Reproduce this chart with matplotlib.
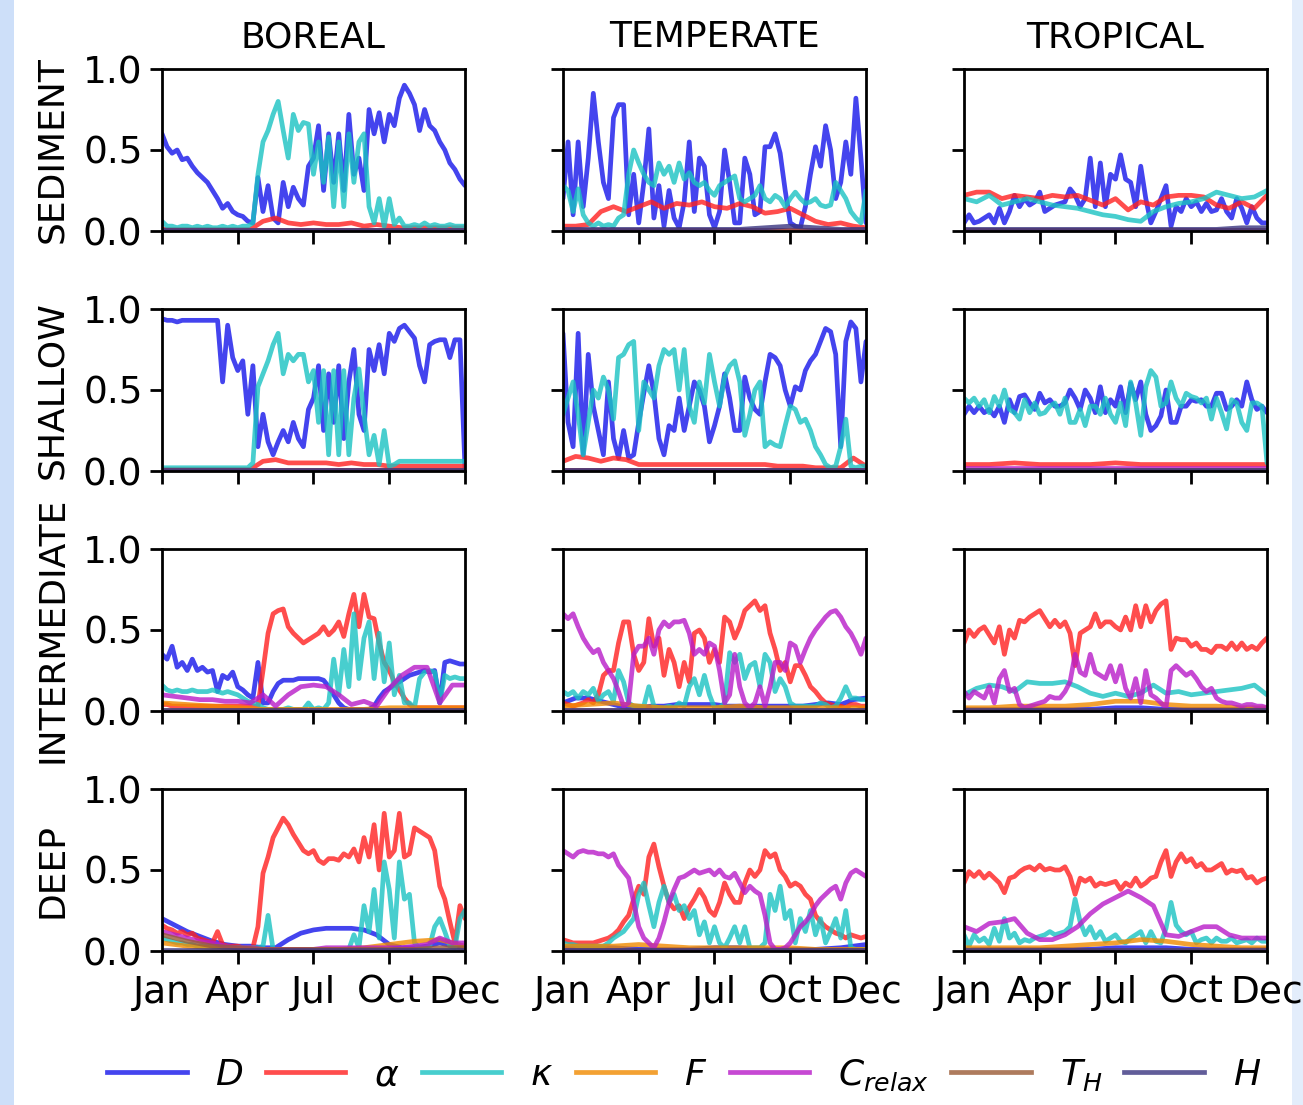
import numpy as np
import matplotlib
matplotlib.use('Agg')
import matplotlib.pyplot as plt
from matplotlib.lines import Line2D
from matplotlib.patches import Rectangle

# ---------------- categories / labels ----------------
biomes = ['BOREAL', 'TEMPERATE', 'TROPICAL']
depths = ['SEDIMENT', 'SHALLOW', 'INTERMEDIATE', 'DEEP']
month_labels = ['Jan', 'Apr', 'Jul', 'Oct', 'Dec']
month_days = [0, 91, 182, 274, 365]
y_ticks = [0.0, 0.5, 1.0]
param_keys = ['D', 'alpha', 'kappa', 'F', 'C', 'TH', 'H']
param_labels = [r'$D$', r'$\alpha$', r'$\kappa$', r'$F$', r'$C_{relax}$', r'$T_H$', r'$H$']

# ---------------- series values (fraction, read along the year) ----------------
floor_vals = [0.005, 0.005, 0.005, 0.005, 0.005]

# BOREAL
bor_sed_D = [0.60,0.52,0.48,0.50,0.44,0.45,0.40,0.36,0.33,0.30,
             0.25,0.20,0.14,0.17,0.12,0.10,0.09,0.06,0.05,0.33,
             0.12,0.28,0.08,0.05,0.30,0.15,0.27,0.20,0.16,0.40,
             0.45,0.65,0.25,0.60,0.30,0.60,0.25,0.72,0.35,0.45,
             0.25,0.75,0.60,0.73,0.55,0.72,0.65,0.82,0.90,0.85,
             0.78,0.62,0.75,0.65,0.62,0.55,0.50,0.42,0.38,0.32,
             0.28]
bor_sed_k = [0.06,0.03,0.03,0.02,0.03,0.03,0.02,0.03,0.02,0.03,
             0.02,0.02,0.03,0.02,0.03,0.02,0.03,0.03,0.05,0.35,
             0.55,0.62,0.72,0.80,0.62,0.45,0.72,0.62,0.67,0.66,
             0.35,0.55,0.30,0.58,0.15,0.55,0.15,0.60,0.30,0.55,
             0.60,0.15,0.05,0.20,0.03,0.20,0.04,0.08,0.03,0.03,
             0.04,0.03,0.05,0.03,0.04,0.03,0.03,0.04,0.03,0.03,
             0.03]
bor_sed_a = [0.01,0.01,0.01,0.01,0.01,0.01,0.01,0.01,0.06,0.08,0.05,0.04,0.05,
             0.04,0.04,0.05,0.03,0.04,0.03,0.02,0.02,0.02,0.02,0.02,0.02]

bor_sha_D = [0.94,0.93,0.93,0.92,0.93,0.93,0.93,0.93,0.93,0.93,
             0.93,0.93,0.55,0.90,0.70,0.62,0.68,0.35,0.65,0.15,
             0.35,0.18,0.10,0.18,0.25,0.18,0.30,0.20,0.15,0.38,
             0.45,0.65,0.25,0.60,0.30,0.65,0.20,0.55,0.75,0.35,
             0.25,0.75,0.62,0.78,0.60,0.85,0.80,0.88,0.90,0.86,
             0.82,0.65,0.55,0.78,0.80,0.81,0.81,0.70,0.81,0.81,
             0.02]
bor_sha_k = [0.02,0.02,0.02,0.02,0.02,0.02,0.02,0.02,0.02,0.02,
             0.02,0.02,0.02,0.02,0.02,0.02,0.02,0.02,0.05,0.52,
             0.60,0.68,0.78,0.85,0.60,0.72,0.68,0.72,0.72,0.55,
             0.62,0.30,0.62,0.10,0.62,0.10,0.62,0.10,0.45,0.63,
             0.35,0.10,0.22,0.04,0.25,0.03,0.04,0.06,0.06,0.06,
             0.06,0.06,0.06,0.06,0.06,0.06,0.06,0.06,0.06,0.06,
             0.06]
bor_sha_a = [0.01,0.01,0.01,0.01,0.01,0.01,0.01,0.01,0.06,0.07,0.05,0.05,0.05,
             0.05,0.04,0.05,0.04,0.04,0.03,0.03,0.03,0.03,0.03,0.03,0.03]

bor_int_D = [0.35,0.32,0.40,0.27,0.30,0.25,0.32,0.25,0.27,0.24,
             0.25,0.12,0.22,0.20,0.24,0.15,0.13,0.10,0.08,0.30,
             0.05,0.05,0.12,0.17,0.19,0.19,0.19,0.20,0.20,0.20,
             0.20,0.20,0.19,0.15,0.10,0.05,0.02,0.01,0.01,0.01,
             0.01,0.01,0.03,0.08,0.12,0.14,0.16,0.18,0.20,0.22,
             0.23,0.24,0.25,0.24,0.25,0.05,0.30,0.31,0.30,0.29,
             0.29]
bor_int_a = [0.04,0.04,0.03,0.03,0.03,0.03,0.03,0.03,0.03,0.03,
             0.03,0.03,0.03,0.03,0.03,0.03,0.03,0.03,0.03,0.03,
             0.25,0.48,0.60,0.62,0.63,0.52,0.48,0.45,0.42,0.44,
             0.46,0.48,0.52,0.47,0.50,0.55,0.46,0.60,0.72,0.52,
             0.72,0.58,0.57,0.42,0.30,0.25,0.18,0.13,0.08,0.04,
             0.02,0.02,0.02,0.02,0.02,0.02,0.02,0.02,0.02,0.02,
             0.02]
bor_int_k = [0.16,0.13,0.12,0.13,0.12,0.12,0.13,0.12,0.12,0.12,
             0.13,0.12,0.11,0.12,0.11,0.10,0.08,0.06,0.05,0.04,
             0.02,0.01,0.01,0.01,0.01,0.02,0.01,0.01,0.01,0.05,
             0.01,0.02,0.01,0.05,0.32,0.10,0.38,0.15,0.60,0.20,
             0.45,0.55,0.20,0.48,0.18,0.42,0.10,0.22,0.05,0.05,
             0.02,0.20,0.24,0.25,0.24,0.05,0.22,0.20,0.21,0.20,
             0.20]
bor_int_C = [0.10,0.09,0.08,0.07,0.07,0.06,0.06,0.05,0.10,0.03,0.10,0.15,0.16,
             0.15,0.10,0.04,0.06,0.03,0.14,0.22,0.27,0.27,0.05,0.16,0.16]
bor_int_F = [0.05,0.04,0.03,0.02,0.01,0.01,0.01,0.01,0.01,0.02,0.02,0.02,0.02]

bor_dee_D = [0.20,0.16,0.12,0.09,0.06,0.04,0.03,0.03,0.02,0.02,0.07,0.11,0.13,
             0.14,0.14,0.14,0.13,0.10,0.04,0.02,0.02,0.03,0.05,0.03,0.02]
bor_dee_a = [0.16,0.14,0.13,0.11,0.12,0.10,0.11,0.08,0.07,0.06,
             0.05,0.12,0.04,0.03,0.03,0.03,0.02,0.02,0.02,0.15,
             0.48,0.58,0.70,0.76,0.82,0.78,0.72,0.67,0.62,0.60,
             0.62,0.56,0.54,0.57,0.57,0.56,0.60,0.58,0.63,0.55,
             0.70,0.58,0.78,0.50,0.85,0.58,0.62,0.85,0.58,0.60,
             0.76,0.74,0.72,0.70,0.62,0.40,0.32,0.18,0.05,0.28,
             0.20]
bor_dee_k = [0.08,0.07,0.06,0.05,0.05,0.04,0.04,0.03,0.03,0.03,
             0.03,0.03,0.02,0.02,0.02,0.02,0.02,0.02,0.02,0.02,
             0.03,0.22,0.01,0.01,0.01,0.01,0.01,0.01,0.01,0.01,
             0.01,0.01,0.01,0.01,0.01,0.01,0.01,0.01,0.10,0.02,
             0.28,0.12,0.38,0.08,0.55,0.38,0.08,0.55,0.32,0.35,
             0.05,0.02,0.02,0.03,0.15,0.20,0.12,0.03,0.02,0.20,
             0.25]
bor_dee_C = [0.12,0.10,0.08,0.06,0.05,0.03,0.02,0.02,0.01,0.01,0.01,0.01,0.01,
             0.02,0.02,0.02,0.02,0.02,0.02,0.02,0.03,0.04,0.08,0.05,0.05]
bor_dee_F = [0.05,0.03,0.02,0.01,0.01,0.01,0.01,0.01,0.02,0.04,0.06,0.07,0.03]
bor_dee_T = [0.10,0.06,0.03,0.02,0.01,0.01,0.01,0.01,0.01,0.01,0.01,0.02,0.02]

# TEMPERATE
tem_sed_D = [0.20,0.55,0.10,0.55,0.15,0.45,0.85,0.55,0.30,0.20,
             0.70,0.78,0.78,0.10,0.35,0.05,0.30,0.63,0.08,0.28,
             0.03,0.25,0.08,0.02,0.18,0.55,0.12,0.45,0.40,0.10,
             0.02,0.12,0.50,0.30,0.05,0.05,0.45,0.35,0.10,0.12,
             0.52,0.52,0.60,0.48,0.25,0.05,0.03,0.02,0.15,0.35,
             0.52,0.40,0.65,0.50,0.20,0.30,0.55,0.35,0.82,0.45,
             0.05]
tem_sed_k = [0.28,0.25,0.12,0.26,0.10,0.05,0.03,0.05,0.03,0.04,
             0.03,0.08,0.10,0.35,0.50,0.42,0.35,0.30,0.28,0.42,
             0.35,0.40,0.30,0.42,0.32,0.36,0.30,0.28,0.30,0.25,
             0.22,0.28,0.30,0.32,0.34,0.20,0.18,0.20,0.22,0.28,
             0.20,0.18,0.22,0.20,0.15,0.20,0.24,0.20,0.17,0.18,
             0.20,0.16,0.15,0.16,0.30,0.25,0.20,0.12,0.08,0.05,
             0.25]
tem_sed_a = [0.03,0.03,0.04,0.12,0.15,0.12,0.15,0.18,0.14,0.17,0.16,0.18,0.15,
             0.14,0.17,0.15,0.11,0.12,0.14,0.10,0.06,0.04,0.05,0.03,0.02]
tem_sed_H = [0.01,0.01,0.01,0.01,0.01,0.01,0.01,0.01,0.02,0.03,0.02,0.01,0.01]

tem_sha_D = [0.85,0.30,0.15,0.85,0.10,0.72,0.40,0.25,0.10,0.55,
             0.20,0.08,0.25,0.08,0.10,0.30,0.48,0.65,0.48,0.20,
             0.10,0.28,0.25,0.45,0.25,0.40,0.55,0.50,0.40,0.18,
             0.28,0.40,0.60,0.45,0.25,0.25,0.58,0.45,0.38,0.35,
             0.55,0.72,0.70,0.65,0.50,0.40,0.52,0.50,0.62,0.68,
             0.72,0.80,0.88,0.86,0.72,0.15,0.80,0.92,0.88,0.55,
             0.80]
tem_sha_k = [0.35,0.45,0.55,0.35,0.10,0.30,0.50,0.45,0.58,0.50,
             0.32,0.70,0.72,0.78,0.80,0.25,0.55,0.50,0.45,0.65,
             0.75,0.72,0.75,0.50,0.75,0.40,0.30,0.55,0.42,0.72,
             0.55,0.40,0.58,0.65,0.68,0.55,0.22,0.35,0.50,0.55,
             0.15,0.18,0.16,0.15,0.28,0.40,0.38,0.30,0.32,0.25,
             0.15,0.10,0.04,0.02,0.03,0.15,0.32,0.03,0.02,0.03,
             0.03]
tem_sha_a = [0.06,0.09,0.08,0.06,0.08,0.07,0.04,0.04,0.04,0.04,0.04,0.04,0.04,
             0.04,0.04,0.04,0.04,0.03,0.03,0.03,0.02,0.02,0.02,0.08,0.03]

tem_int_D = [0.05,0.08,0.08,0.06,0.04,0.02,0.02,0.03,0.03,0.04,0.04,0.04,0.04,
             0.03,0.03,0.03,0.03,0.03,0.03,0.03,0.04,0.05,0.04,0.07,0.08]
tem_int_a = [0.05,0.04,0.03,0.04,0.05,0.07,0.05,0.10,0.22,0.25,
             0.25,0.42,0.55,0.55,0.35,0.25,0.30,0.57,0.40,0.45,
             0.22,0.38,0.30,0.15,0.30,0.18,0.48,0.50,0.45,0.30,
             0.38,0.30,0.58,0.55,0.45,0.52,0.62,0.65,0.68,0.62,
             0.65,0.48,0.38,0.25,0.30,0.18,0.28,0.28,0.22,0.15,
             0.12,0.08,0.05,0.04,0.03,0.03,0.02,0.04,0.04,0.03,
             0.03]
tem_int_k = [0.12,0.10,0.12,0.08,0.12,0.10,0.14,0.06,0.10,0.12,
             0.06,0.25,0.18,0.05,0.03,0.03,0.03,0.15,0.03,0.02,
             0.02,0.03,0.02,0.05,0.03,0.15,0.20,0.10,0.22,0.10,
             0.02,0.02,0.05,0.36,0.30,0.35,0.20,0.28,0.30,0.15,
             0.35,0.30,0.12,0.20,0.15,0.05,0.03,0.03,0.03,0.03,
             0.03,0.05,0.04,0.02,0.03,0.08,0.15,0.08,0.08,0.07,
             0.07]
tem_int_F = [0.03,0.04,0.05,0.03,0.02,0.02,0.02,0.03,0.02,0.02,0.02,0.02,0.02]
tem_int_C = [0.60,0.57,0.60,0.52,0.45,0.40,0.36,0.38,0.30,0.25,
             0.20,0.12,0.03,0.05,0.35,0.40,0.40,0.45,0.35,0.50,
             0.55,0.52,0.55,0.55,0.56,0.48,0.35,0.38,0.35,0.42,
             0.40,0.25,0.05,0.10,0.35,0.15,0.05,0.02,0.05,0.15,
             0.03,0.15,0.30,0.30,0.25,0.42,0.40,0.30,0.38,0.45,
             0.50,0.54,0.58,0.61,0.62,0.58,0.52,0.48,0.42,0.35,
             0.45]

tem_dee_D = [0.02,0.02,0.02,0.01,0.01,0.01,0.02,0.02,0.01,0.01,0.01,0.02,0.04]
tem_dee_a = [0.07,0.06,0.05,0.05,0.05,0.05,0.05,0.06,0.07,0.08,
             0.10,0.13,0.18,0.22,0.32,0.40,0.35,0.58,0.66,0.52,
             0.40,0.30,0.26,0.28,0.20,0.27,0.32,0.38,0.33,0.25,
             0.22,0.30,0.42,0.35,0.30,0.30,0.42,0.50,0.46,0.50,
             0.62,0.58,0.60,0.50,0.46,0.40,0.42,0.40,0.35,0.32,
             0.22,0.18,0.15,0.13,0.11,0.10,0.08,0.10,0.09,0.08,
             0.09]
tem_dee_k = [0.05,0.04,0.04,0.03,0.03,0.03,0.03,0.03,0.03,0.05,
             0.08,0.10,0.12,0.16,0.20,0.35,0.42,0.28,0.15,0.30,
             0.40,0.30,0.35,0.25,0.28,0.20,0.25,0.10,0.18,0.05,
             0.15,0.05,0.02,0.08,0.15,0.05,0.15,0.02,0.02,0.02,
             0.05,0.35,0.25,0.40,0.20,0.25,0.05,0.20,0.12,0.25,
             0.10,0.20,0.05,0.12,0.20,0.08,0.25,0.02,0.01,0.01,
             0.01]
tem_dee_F = [0.03,0.03,0.03,0.04,0.03,0.02,0.02,0.02,0.02,0.02,0.01,0.01,0.01]
tem_dee_C = [0.62,0.60,0.58,0.61,0.62,0.61,0.61,0.60,0.60,0.58,
             0.60,0.53,0.49,0.45,0.30,0.15,0.08,0.05,0.02,0.08,
             0.18,0.30,0.38,0.45,0.46,0.48,0.50,0.48,0.49,0.50,
             0.47,0.50,0.46,0.45,0.48,0.42,0.36,0.40,0.37,0.35,
             0.22,0.05,0.01,0.01,0.02,0.05,0.10,0.15,0.18,0.22,
             0.28,0.32,0.35,0.38,0.40,0.32,0.42,0.48,0.50,0.48,
             0.46]

# TROPICAL
tro_sed_D = [0.05,0.10,0.05,0.06,0.08,0.10,0.05,0.14,0.05,0.12,
             0.22,0.15,0.20,0.16,0.18,0.24,0.12,0.14,0.16,0.17,
             0.18,0.26,0.22,0.15,0.20,0.45,0.15,0.42,0.15,0.35,
             0.32,0.47,0.32,0.30,0.15,0.40,0.20,0.05,0.12,0.20,
             0.28,0.03,0.15,0.12,0.20,0.15,0.18,0.12,0.17,0.12,
             0.13,0.20,0.12,0.08,0.20,0.14,0.05,0.15,0.08,0.05,
             0.05]
tro_sed_a = [0.22,0.24,0.24,0.20,0.22,0.21,0.20,0.22,0.21,0.22,0.19,0.16,0.20,
             0.13,0.18,0.16,0.21,0.22,0.22,0.21,0.16,0.14,0.18,0.14,0.22]
tro_sed_k = [0.20,0.18,0.22,0.16,0.18,0.20,0.18,0.16,0.15,0.14,0.12,0.10,0.09,
             0.07,0.06,0.12,0.15,0.17,0.18,0.20,0.24,0.22,0.20,0.21,0.25]
tro_sed_H = [0.01,0.01,0.01,0.01,0.01,0.01,0.01,0.01,0.01,0.01,0.01,0.02,0.02]

tro_sha_D = [0.35,0.40,0.36,0.40,0.36,0.38,0.34,0.40,0.30,0.44,
             0.36,0.46,0.47,0.42,0.38,0.48,0.42,0.44,0.40,0.40,
             0.42,0.50,0.45,0.38,0.50,0.45,0.36,0.52,0.36,0.44,
             0.40,0.52,0.36,0.54,0.44,0.55,0.35,0.25,0.28,0.34,
             0.50,0.30,0.30,0.40,0.40,0.44,0.43,0.44,0.40,0.40,
             0.48,0.48,0.38,0.40,0.44,0.40,0.55,0.44,0.38,0.40,
             0.36]
tro_sha_k = [0.45,0.42,0.45,0.40,0.44,0.36,0.46,0.40,0.50,0.38,
             0.36,0.32,0.44,0.36,0.42,0.35,0.36,0.40,0.42,0.35,
             0.45,0.30,0.30,0.38,0.28,0.40,0.40,0.35,0.45,0.35,
             0.30,0.42,0.28,0.55,0.42,0.22,0.52,0.62,0.58,0.40,
             0.42,0.55,0.45,0.40,0.48,0.46,0.45,0.42,0.45,0.32,
             0.45,0.36,0.26,0.44,0.42,0.30,0.25,0.42,0.42,0.40,
             0.05]
tro_sha_a = [0.04,0.04,0.05,0.04,0.04,0.04,0.05,0.04,0.04,0.04,0.04,0.04,0.04]
tro_sha_C = [0.02,0.02,0.02,0.02,0.02,0.02,0.02,0.02,0.02,0.02,0.02,0.02,0.02]

tro_int_D = [0.01,0.01,0.01,0.01,0.01,0.01,0.02,0.02,0.01,0.01,0.01,0.01,0.01]
tro_int_a = [0.42,0.50,0.46,0.50,0.52,0.47,0.42,0.52,0.35,0.50,
             0.45,0.56,0.55,0.58,0.60,0.62,0.57,0.52,0.56,0.52,
             0.55,0.48,0.28,0.48,0.50,0.52,0.60,0.52,0.55,0.55,
             0.52,0.50,0.58,0.50,0.65,0.52,0.65,0.55,0.62,0.66,
             0.68,0.38,0.45,0.44,0.44,0.40,0.42,0.38,0.38,0.36,
             0.40,0.40,0.38,0.42,0.38,0.42,0.38,0.40,0.38,0.42,
             0.45]
tro_int_k = [0.10,0.14,0.16,0.15,0.12,0.18,0.17,0.17,0.18,0.15,0.11,0.09,0.11,
             0.09,0.11,0.16,0.11,0.12,0.10,0.11,0.12,0.13,0.14,0.16,0.10]
tro_int_F = [0.02,0.02,0.03,0.03,0.03,0.04,0.06,0.06,0.04,0.03,0.03,0.02,0.02]
tro_int_C = [0.12,0.08,0.12,0.10,0.08,0.15,0.05,0.20,0.25,0.12,
             0.14,0.04,0.02,0.03,0.04,0.05,0.06,0.09,0.08,0.08,
             0.12,0.18,0.35,0.24,0.22,0.35,0.24,0.22,0.20,0.28,
             0.18,0.28,0.14,0.08,0.20,0.05,0.25,0.10,0.08,0.05,
             0.02,0.25,0.28,0.25,0.22,0.24,0.20,0.15,0.12,0.14,
             0.08,0.06,0.05,0.05,0.04,0.03,0.04,0.04,0.03,0.03,
             0.02]

tro_dee_D = [0.01,0.01,0.01,0.01,0.01,0.01,0.02,0.02,0.02,0.01,0.01,0.01,0.01]
tro_dee_a = [0.42,0.49,0.46,0.49,0.45,0.48,0.45,0.42,0.36,0.45,
             0.46,0.49,0.51,0.52,0.50,0.53,0.50,0.51,0.50,0.50,
             0.52,0.46,0.35,0.45,0.43,0.45,0.40,0.42,0.41,0.42,
             0.43,0.38,0.42,0.40,0.45,0.40,0.42,0.45,0.46,0.55,
             0.62,0.46,0.55,0.60,0.55,0.57,0.52,0.54,0.50,0.50,
             0.52,0.54,0.48,0.50,0.49,0.50,0.45,0.46,0.42,0.44,
             0.45]
tro_dee_k = [0.10,0.03,0.10,0.06,0.08,0.04,0.14,0.06,0.20,0.08,
             0.11,0.05,0.07,0.06,0.08,0.09,0.10,0.12,0.10,0.11,
             0.12,0.15,0.32,0.18,0.10,0.15,0.08,0.12,0.06,0.08,
             0.10,0.06,0.05,0.08,0.10,0.12,0.05,0.12,0.06,0.05,
             0.14,0.30,0.16,0.12,0.10,0.12,0.05,0.07,0.08,0.05,
             0.08,0.06,0.06,0.08,0.05,0.06,0.07,0.05,0.08,0.06,
             0.06]
tro_dee_F = [0.02,0.02,0.02,0.02,0.03,0.04,0.05,0.07,0.06,0.04,0.03,0.02,0.02]
tro_dee_C = [0.15,0.12,0.17,0.18,0.20,0.11,0.07,0.07,0.10,0.15,0.23,0.29,0.33,
             0.37,0.33,0.28,0.10,0.09,0.12,0.15,0.15,0.10,0.08,0.08,0.08]

# ---------------- assemble panels ----------------
fv = floor_vals
panels = {
    ('BOREAL', 'SEDIMENT'): dict(D=bor_sed_D, alpha=bor_sed_a, kappa=bor_sed_k, F=fv, C=fv, TH=fv, H=fv),
    ('BOREAL', 'SHALLOW'): dict(D=bor_sha_D, alpha=bor_sha_a, kappa=bor_sha_k, F=fv, C=fv, TH=fv, H=fv),
    ('BOREAL', 'INTERMEDIATE'): dict(D=bor_int_D, alpha=bor_int_a, kappa=bor_int_k, F=bor_int_F, C=bor_int_C, TH=fv, H=fv),
    ('BOREAL', 'DEEP'): dict(D=bor_dee_D, alpha=bor_dee_a, kappa=bor_dee_k, F=bor_dee_F, C=bor_dee_C, TH=bor_dee_T, H=fv),
    ('TEMPERATE', 'SEDIMENT'): dict(D=tem_sed_D, alpha=tem_sed_a, kappa=tem_sed_k, F=fv, C=fv, TH=fv, H=tem_sed_H),
    ('TEMPERATE', 'SHALLOW'): dict(D=tem_sha_D, alpha=tem_sha_a, kappa=tem_sha_k, F=fv, C=fv, TH=fv, H=fv),
    ('TEMPERATE', 'INTERMEDIATE'): dict(D=tem_int_D, alpha=tem_int_a, kappa=tem_int_k, F=tem_int_F, C=tem_int_C, TH=fv, H=fv),
    ('TEMPERATE', 'DEEP'): dict(D=tem_dee_D, alpha=tem_dee_a, kappa=tem_dee_k, F=tem_dee_F, C=tem_dee_C, TH=fv, H=fv),
    ('TROPICAL', 'SEDIMENT'): dict(D=tro_sed_D, alpha=tro_sed_a, kappa=tro_sed_k, F=fv, C=fv, TH=fv, H=tro_sed_H),
    ('TROPICAL', 'SHALLOW'): dict(D=tro_sha_D, alpha=tro_sha_a, kappa=tro_sha_k, F=fv, C=tro_sha_C, TH=fv, H=fv),
    ('TROPICAL', 'INTERMEDIATE'): dict(D=tro_int_D, alpha=tro_int_a, kappa=tro_int_k, F=tro_int_F, C=tro_int_C, TH=fv, H=fv),
    ('TROPICAL', 'DEEP'): dict(D=tro_dee_D, alpha=tro_dee_a, kappa=tro_dee_k, F=tro_dee_F, C=tro_dee_C, TH=fv, H=fv),
}

# ---------------- styles ----------------
colors = {'D': '#1515ea', 'alpha': '#ff2020', 'kappa': '#1ac2c2', 'F': '#f08a00',
          'C': '#b81cc8', 'TH': '#9a5a35', 'H': '#3a3580'}
ALPHA = 0.8
LW = 3.4
FS = 26
TICK_FS = 27

W, H_ = 1303, 1105
fig = plt.figure(figsize=(W / 100, H_ / 100), dpi=100)
fig.patch.set_facecolor('white')
fig.patches.append(Rectangle((0, 0), 14 / W, 1, transform=fig.transFigure,
                             facecolor='#cddff9', edgecolor='none', zorder=-5))
fig.patches.append(Rectangle((1292 / W, 0), 11 / W, 1, transform=fig.transFigure,
                             facecolor='#e3edfb', edgecolor='none', zorder=-5))

col_left_px = [162, 563, 964]
row_top_px = [69, 309, 549, 789]
ax_w_px, ax_h_px = 303, 162

for r, depth in enumerate(depths):
    for c, biome in enumerate(biomes):
        left = col_left_px[c] / W
        bottom = 1 - (row_top_px[r] + ax_h_px) / H_
        ax = fig.add_axes([left, bottom, ax_w_px / W, ax_h_px / H_])
        data = panels[(biome, depth)]
        for key in param_keys:
            vals = data[key]
            x = np.linspace(0, 365, len(vals))
            ax.plot(x, vals, color=colors[key], alpha=ALPHA, lw=LW,
                    solid_joinstyle='round', solid_capstyle='round')
        ax.set_xlim(0, 365)
        ax.set_ylim(0, 1)
        ax.set_xticks(month_days)
        ax.set_yticks(y_ticks)
        for sp in ax.spines.values():
            sp.set_linewidth(2.0)
        ax.tick_params(direction='out', length=9, width=2.0, labelsize=TICK_FS, pad=5)
        ax.tick_params(axis='x', pad=8)
        if r == len(depths) - 1:
            ax.set_xticklabels(month_labels)
        else:
            ax.set_xticklabels([])
        if c == 0:
            ax.set_yticklabels([f'{v:.1f}' for v in y_ticks])
        else:
            ax.set_yticklabels([])
        if r == 0:
            fig.text(left + ax_w_px / W / 2, 1 - 37 / H_, biome, ha='center',
                     va='center', fontsize=FS)
    fig.text(52 / W, 1 - (row_top_px[r] + ax_h_px / 2) / H_, depth, rotation=90,
             ha='center', va='center', fontsize=FS)

handles = [Line2D([0], [0], color=colors[k], alpha=ALPHA, lw=LW) for k in param_keys]
fig.legend(handles, param_labels, loc='center', bbox_to_anchor=(684 / W, 1 - 1075 / H_),
           ncol=7, frameon=False, fontsize=FS, handlelength=2.2,
           handletextpad=0.8, columnspacing=0.62)

fig.savefig('out.png', dpi=100, facecolor=fig.get_facecolor())
